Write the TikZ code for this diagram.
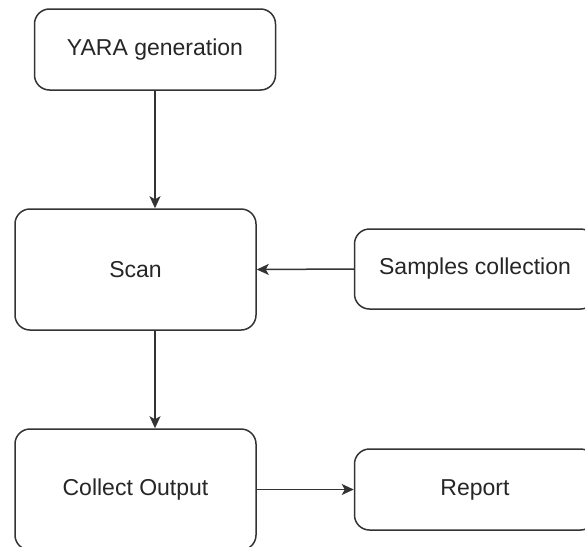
\documentclass[tikz,border=0pt]{standalone}
\usepackage{fontspec}
\setmainfont{Liberation Sans}
\usetikzlibrary{arrows.meta}
\colorlet{edge}{black!80}
\tikzset{
  stage/.style={draw=edge, line width=1.5pt, rounded corners=15pt, fill=white,
    text=black!85, font=\fontsize{23}{27}\selectfont, minimum width=241pt},
  flow/.style={-{Stealth[length=12pt,width=11pt,inset=3pt]}, draw=edge, line width=1.5pt}
}

\begin{document}
\begin{tikzpicture}[x=1pt,y=-1pt]
\useasboundingbox (0,0) rectangle (585,546);
\clip (0,0) rectangle (585,546);

\node [stage, minimum height=81pt]  (yara)    at (155,49.5)  {YARA generation};
\node [stage, minimum height=121pt] (scan)    at (135.5,269.5) {Scan};
\node [stage, minimum height=80pt]  (samples) at (475,269)   {Samples collection};
\node [stage, minimum height=121pt] (collect) at (135.5,489.5) {Collect Output};
\node [stage, minimum height=81pt]  (report)  at (475,489.5) {Report};

\draw [flow] (yara.south) -- (yara.south |- scan.north);
\draw [flow] (samples.west) -- (scan.east);
\draw [flow] (yara.south |- scan.south) -- (yara.south |- collect.north);
\draw [flow] (collect.east) -- (collect.east -| report.west);

\end{tikzpicture}
\end{document}
